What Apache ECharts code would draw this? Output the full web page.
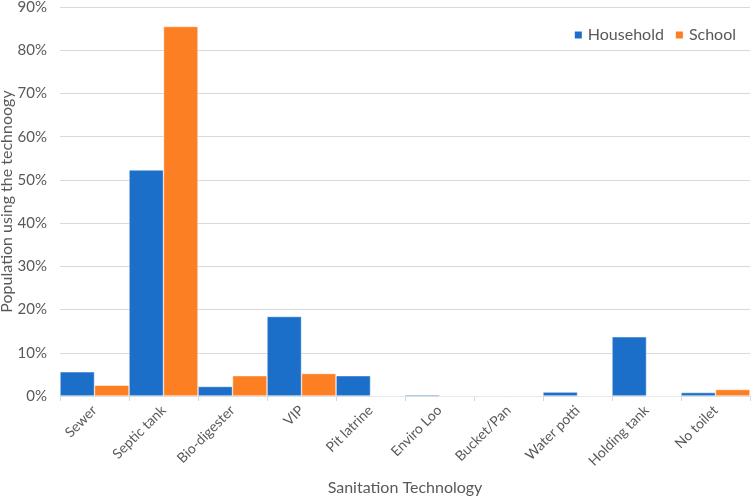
<!DOCTYPE html>
<html>
<head>
<meta charset="utf-8">
<script src="https://cdn.jsdelivr.net/npm/echarts@6/dist/echarts.min.js"></script>
<style>html,body{margin:0;padding:0;background:#fff}#c{width:754px;height:498px}</style>
</head>
<body>
<div id="c"></div>
<script>
const categories = ['Sewer','Septic tank','Bio-digester','VIP','Pit latrine','Enviro Loo','Bucket/Pan','Water potti','Holding tank','No toilet'];
const household = [5.6, 52.3, 2.2, 18.4, 4.7, 0.3, 0, 0.9, 13.7, 0.8];
const school = [2.5, 85.5, 4.7, 5.2, 0, 0, 0, 0, 0, 1.5];
const yTicks = [0,10,20,30,40,50,60,70,80,90];

const font = 'Lato, "Open Sans", sans-serif';
const chart = echarts.init(document.getElementById('c'), null, {renderer:'canvas'});
chart.setOption({
  animation:false,
  textStyle:{fontFamily:font},
  legend:{
    top:22, right:13, itemWidth:9, itemHeight:9, itemGap:10,
    icon:'rect',
    textStyle:{fontSize:16, color:'#595959', fontFamily:font},
    data:['Household','School']
  },
  grid:{left:60, right:4, top:7, bottom:102, containLabel:false, outerBoundsMode:'none'},
  xAxis:{
    type:'category', data:categories,
    name:'Sanitation Technology', nameLocation:'middle', nameGap:84, nameMoveOverlap:false,
    nameTextStyle:{fontSize:16, color:'#595959', fontFamily:font},
    axisLine:{lineStyle:{color:'#d9d9d9'}},
    axisTick:{show:true, alignWithLabel:false, length:5, lineStyle:{color:'#d9d9d9'}},
    axisLabel:{rotate:45, fontSize:14, color:'#595959', interval:0, margin:12, fontFamily:font}
  },
  yAxis:{
    type:'value', min:0, max:90, interval:10,
    name:'Population using the technoogy', nameLocation:'middle', nameGap:45, nameMoveOverlap:false,
    nameTextStyle:{fontSize:16, color:'#595959', fontFamily:font},
    axisLine:{show:false}, axisTick:{show:false},
    axisLabel:{fontSize:15, color:'#595959', margin:13, fontFamily:font,
      formatter:v => yTicks.includes(v) ? v + '%' : ''},
    splitLine:{lineStyle:{color:'#d9d9d9'}}
  },
  series:[
    {name:'Household', type:'bar', data:household, barGap:'0%', barCategoryGap:'0%',
      itemStyle:{color:'#1c6fc8', borderColor:'#fff', borderWidth:0.5}},
    {name:'School', type:'bar', data:school, barGap:'0%', barCategoryGap:'0%',
      itemStyle:{color:'#fd7f23', borderColor:'#fff', borderWidth:0.5}}
  ]
});
</script>
</body>
</html>
